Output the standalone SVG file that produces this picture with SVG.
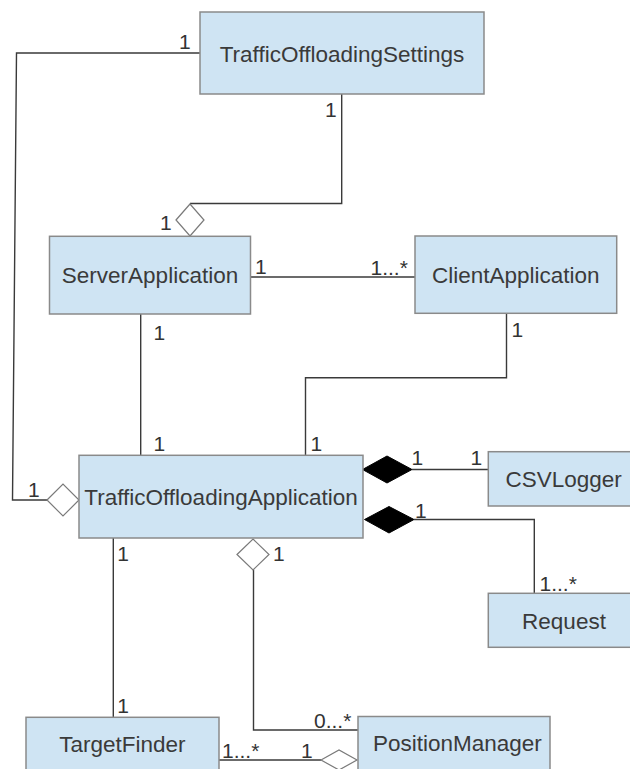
<svg xmlns="http://www.w3.org/2000/svg" width="630" height="769" viewBox="0 0 630 769">
  <style>
    .box { fill: #cfe4f3; stroke: #8a8a8a; stroke-width: 1.5; }
    .name { font-family: "Liberation Sans", Arial, sans-serif; font-size: 22.5px; fill: #3a3a3a; text-anchor: middle; }
    .lbl { font-family: "Liberation Sans", Arial, sans-serif; font-size: 21px; fill: #333333; }
    .conn { fill: none; stroke: #3a3a3a; stroke-width: 1.4; }
    .hollow { fill: #ffffff; stroke: #7a7a7a; stroke-width: 1.2; }
    .filled { fill: #000000; stroke: #000000; stroke-width: 1; }
  </style>
  <rect x="0" y="0" width="630" height="769" fill="#ffffff"/>

  <g id="connectors">
    <polyline class="conn" points="200,53 16.5,53 12.5,500 47,500"/>
    <polyline class="conn" points="341.7,94 341.7,203.5 190,203.5"/>
    <line class="conn" x1="250.7" y1="277" x2="415" y2="277"/>
    <line class="conn" x1="140.7" y1="314" x2="140.7" y2="455.3"/>
    <polyline class="conn" points="506.5,313.3 506.5,377.7 305.5,377.7 305.5,455.3"/>
    <line class="conn" x1="412" y1="469.5" x2="488.3" y2="469.5"/>
    <polyline class="conn" points="414,519.5 534.3,519.5 534.3,593.3"/>
    <line class="conn" x1="113.3" y1="538" x2="113.3" y2="717.3"/>
    <polyline class="conn" points="253.5,570 253.5,730 358,730"/>
    <line class="conn" x1="219" y1="760" x2="321" y2="760"/>

    <polygon class="hollow" points="47,500 63,484 79,500 63,516"/>
    <polygon class="hollow" points="176,220 190,204 204,220 190,236"/>
    <polygon class="filled" points="362.5,469.5 387,456 412,469.5 387,483"/>
    <polygon class="filled" points="364.5,519.5 389,506.5 414,519.5 389,533"/>
    <polygon class="hollow" points="237,554.5 253,539 269,554.5 253,570"/>
    <polygon class="hollow" points="321,760 339,750 357,760 339,770"/>

    <text class="lbl" x="179" y="49.3">1</text>
    <text class="lbl" x="325" y="116.7">1</text>
    <text class="lbl" x="160" y="230">1</text>
    <text class="lbl" x="255" y="274">1</text>
    <text class="lbl" x="370.5" y="275">1...*</text>
    <text class="lbl" x="153.5" y="340">1</text>
    <text class="lbl" x="153.5" y="450.7">1</text>
    <text class="lbl" x="511.5" y="336.7">1</text>
    <text class="lbl" x="310.5" y="450.7">1</text>
    <text class="lbl" x="28" y="497.3">1</text>
    <text class="lbl" x="411.5" y="465">1</text>
    <text class="lbl" x="470.5" y="465">1</text>
    <text class="lbl" x="415" y="518.3">1</text>
    <text class="lbl" x="539.5" y="590.7">1...*</text>
    <text class="lbl" x="117.3" y="560.7">1</text>
    <text class="lbl" x="273" y="560.7">1</text>
    <text class="lbl" x="117.3" y="713.3">1</text>
    <text class="lbl" x="314" y="728.3">0...*</text>
    <text class="lbl" x="222" y="757.7">1...*</text>
    <text class="lbl" x="301" y="758.3">1</text>
  </g>

  <g id="TrafficOffloadingSettings">
    <rect class="box" x="200" y="12" width="284" height="82"/>
    <text class="name" x="342" y="61.7">TrafficOffloadingSettings</text>
  </g>
  <g id="ServerApplication">
    <rect class="box" x="49.5" y="236.3" width="201" height="77.7"/>
    <text class="name" x="150" y="283.3">ServerApplication</text>
  </g>
  <g id="ClientApplication">
    <rect class="box" x="415" y="236" width="201.7" height="77.3"/>
    <text class="name" x="515.8" y="283.3">ClientApplication</text>
  </g>
  <g id="TrafficOffloadingApplication">
    <rect class="box" x="79" y="455.3" width="284" height="82.7"/>
    <text class="name" x="221" y="505">TrafficOffloadingApplication</text>
  </g>
  <g id="CSVLogger">
    <rect class="box" x="488.3" y="451.7" width="152" height="54.3"/>
    <text class="name" x="563.7" y="486.7">CSVLogger</text>
  </g>
  <g id="Request">
    <rect class="box" x="488.3" y="593.3" width="152" height="54"/>
    <text class="name" x="564" y="629.3">Request</text>
  </g>
  <g id="TargetFinder">
    <rect class="box" x="26" y="717.3" width="193" height="70"/>
    <text class="name" x="122.4" y="752">TargetFinder</text>
  </g>
  <g id="PositionManager">
    <rect class="box" x="358" y="716.5" width="192" height="70"/>
    <text class="name" x="457.4" y="750.7">PositionManager</text>
  </g>
</svg>
